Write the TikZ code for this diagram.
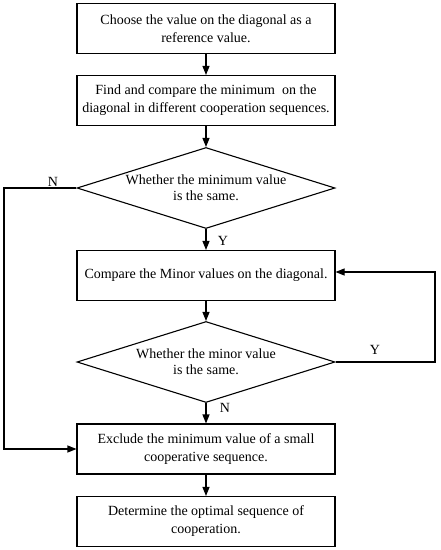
\documentclass[tikz,border=0pt]{standalone}
\usepackage{fontspec}
\setmainfont{Liberation Serif}
\usetikzlibrary{shapes.geometric,arrows.meta}
\begin{document}
\begin{tikzpicture}[x=1pt,y=-1pt,
  every node/.style={font=\fontsize{14}{18}\selectfont},
  stepbox/.style={draw, line width=1.1pt, minimum width=258pt, minimum height=50pt, inner sep=0pt, align=center},
  decision/.style={draw, line width=1.1pt, shape=diamond, aspect=3.2, inner sep=0pt, minimum width=258pt, minimum height=81pt, align=center, font=\fontsize{14}{16}\selectfont},
  conn/.style={line width=1.1pt, -{Triangle[length=9pt,width=7pt]}},
  lbl/.style={inner sep=0pt}]
\useasboundingbox (0,0) rectangle (440,550);
\node[stepbox] (b1) at (206,28.5) {Choose the value on the diagonal as a\\reference value.};
\node[stepbox] (b2) at (206,100.5) {Find and compare the minimum\ \ on the\\diagonal in different cooperation sequences.};
\node[decision] (d1) at (206,188) {Whether the minimum value\\is the same.};
\node[stepbox] (b3) at (206,275.5) {Compare the Minor values on the diagonal.};
\node[decision] (d2) at (206,362) {Whether the minor value\\is the same.};
\node[stepbox] (b4) at (206,449) {Exclude the minimum value of a small\\cooperative sequence.};
\node[stepbox] (b5) at (206,521.5) {Determine the optimal sequence of\\cooperation.};
\coordinate (nl) at (4,188);
\coordinate (yr) at (435,362);
\draw[conn] (b1) -- (b2);
\draw[conn] (b2) -- (d1);
\draw[conn] (d1) -- (b3);
\draw[conn] (b3) -- (d2);
\draw[conn] (d2) -- (b4);
\draw[conn] (b4) -- (b5);
\draw[conn] (d1.west) -- (nl) |- (b4.west);
\draw[conn] (d2.east) -- (yr) |- ([yshift=3.5pt]b3.east);
\node[lbl] (ln1) at (53,182) {N};
\node[lbl] (ly1) at (223,241) {Y};
\node[lbl] (ly2) at (375,350) {Y};
\node[lbl] (ln2) at (225,408) {N};
\end{tikzpicture}
\end{document}
